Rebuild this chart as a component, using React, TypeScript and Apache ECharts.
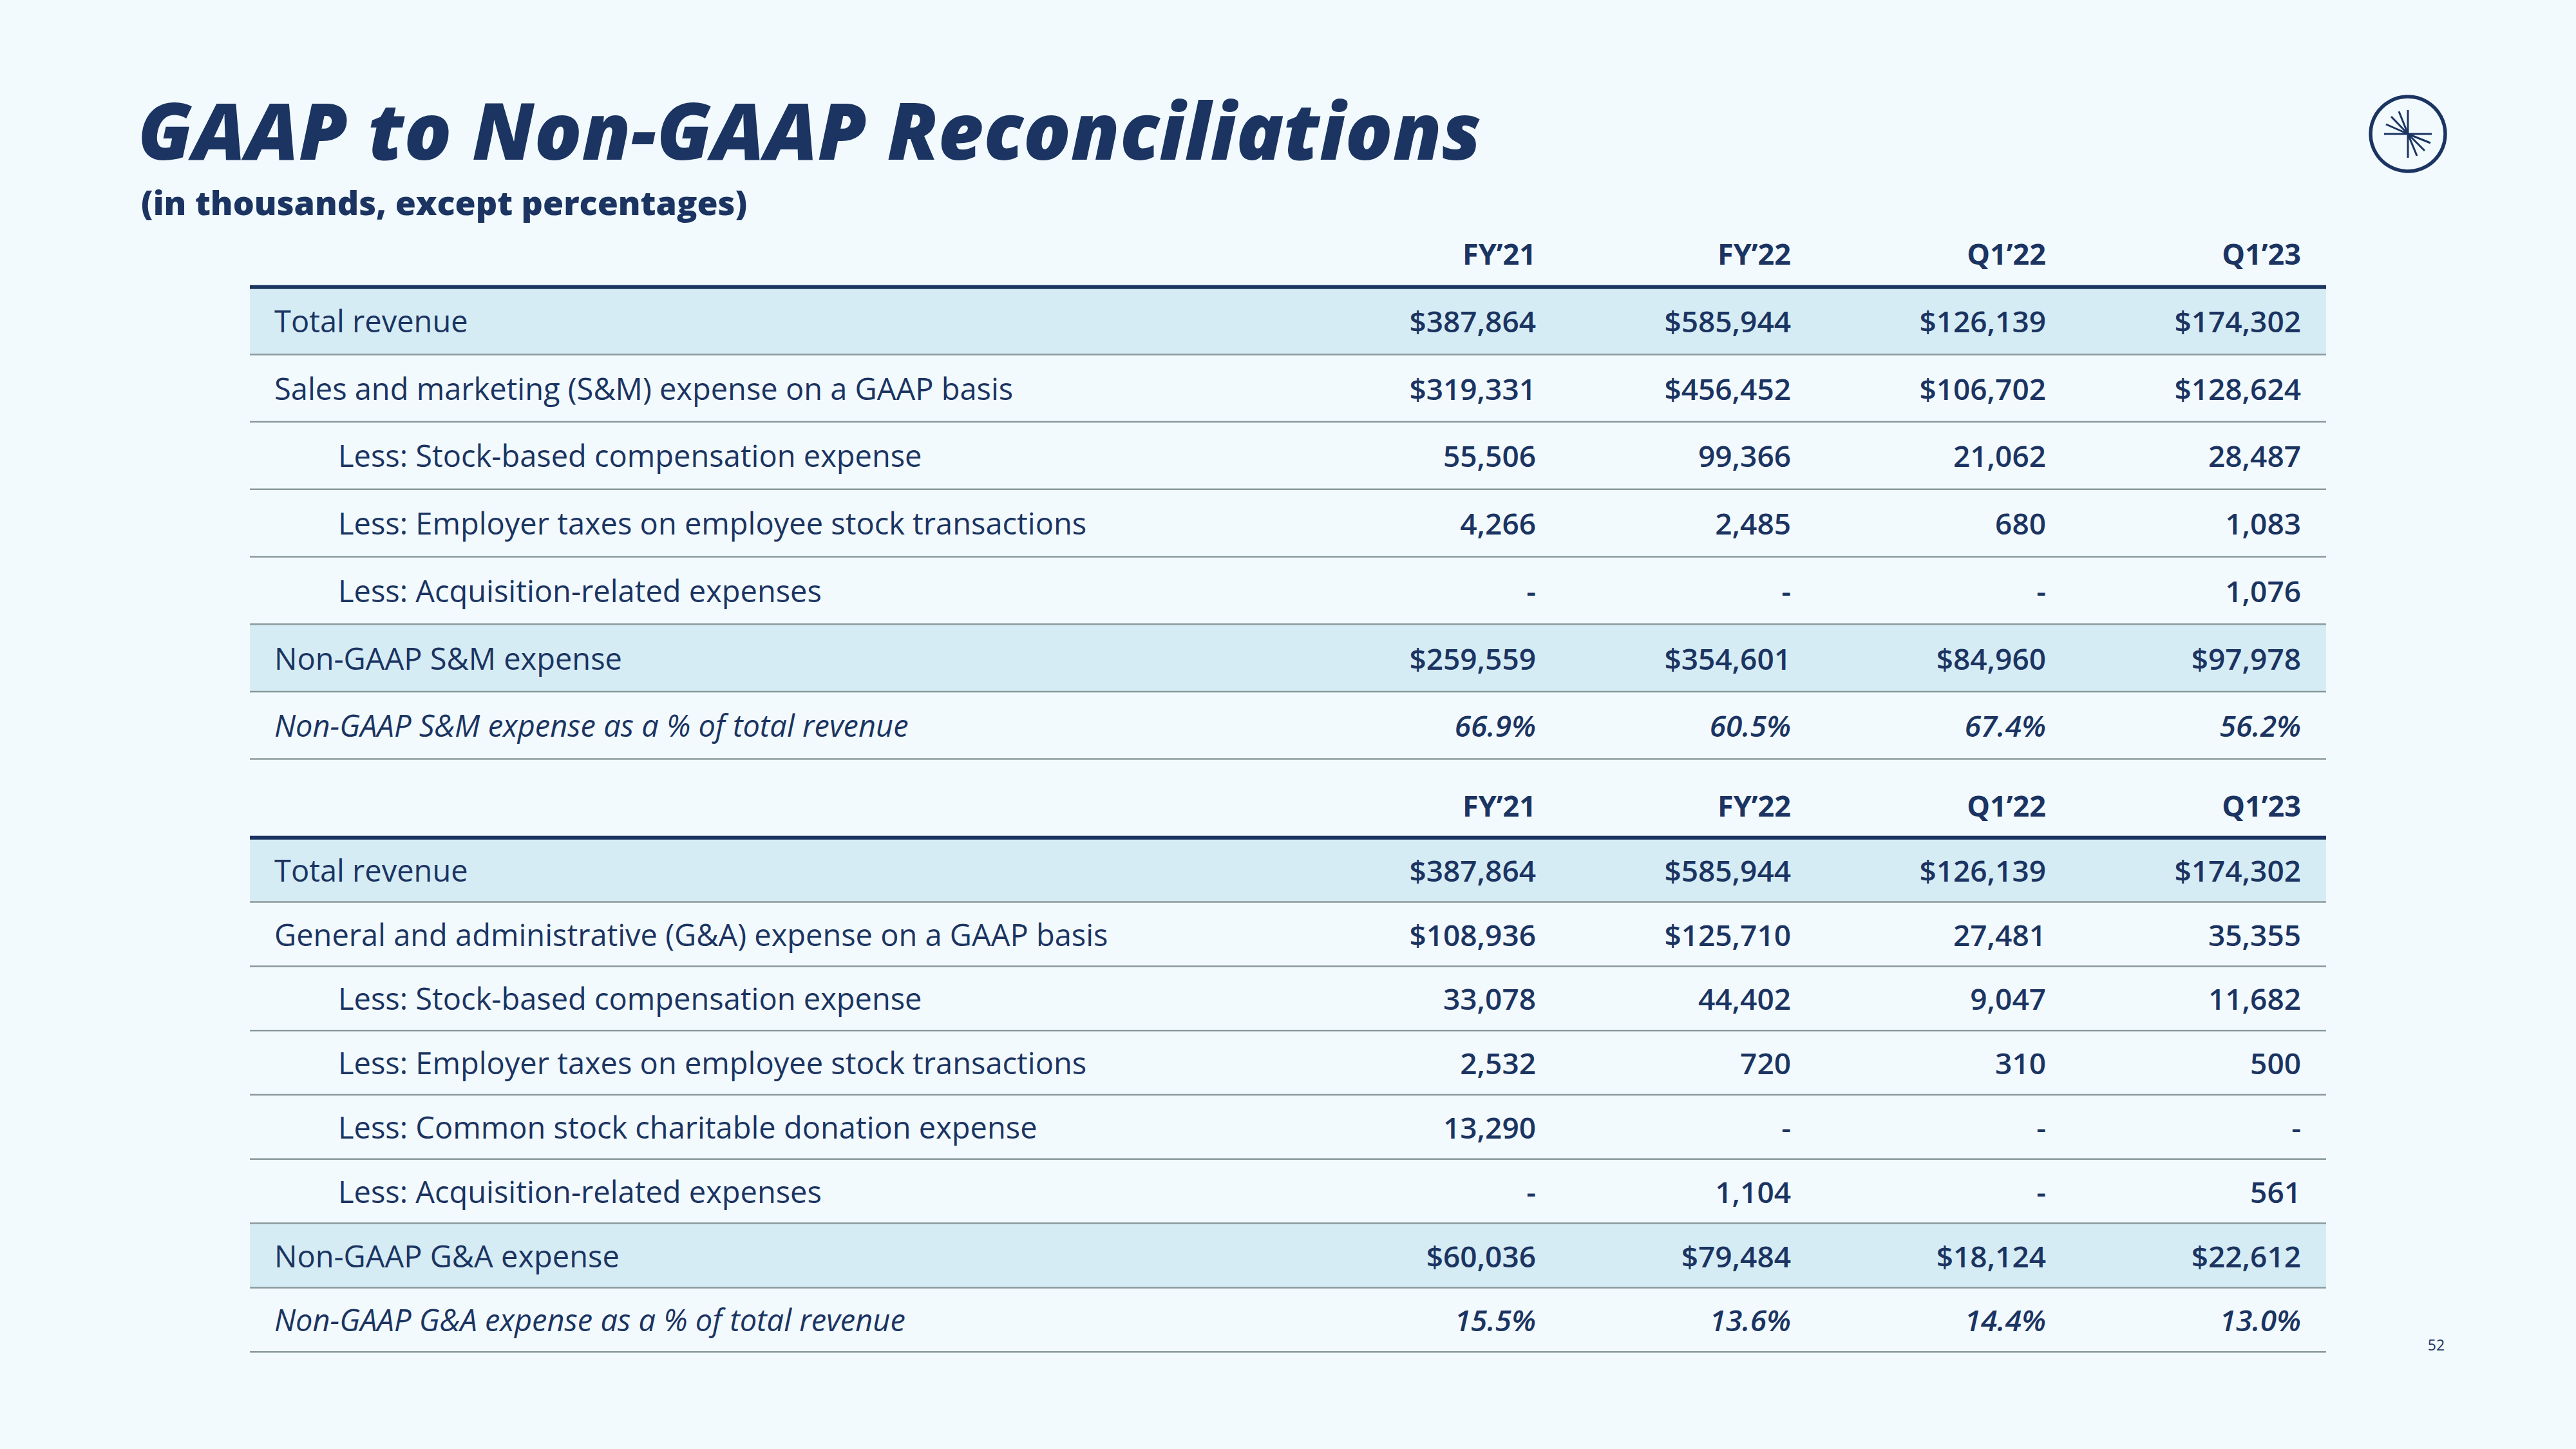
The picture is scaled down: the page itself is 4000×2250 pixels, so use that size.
import React, { useEffect, useRef } from "react";
import * as echarts from "echarts";

// ---------- data ----------
const TITLE = "GAAP to Non-GAAP Reconciliations";
const SUBTITLE = "(in thousands, except percentages)";
const PAGE_NUMBER = "52";

const PERIODS = ["FY’21", "FY’22", "Q1’22", "Q1’23"];

const TOTAL_REVENUE = ["$387,864", "$585,944", "$126,139", "$174,302"];

const SM_GAAP = ["$319,331", "$456,452", "$106,702", "$128,624"];
const SM_SBC = ["55,506", "99,366", "21,062", "28,487"];
const SM_EMP_TAX = ["4,266", "2,485", "680", "1,083"];
const SM_ACQ = ["-", "-", "-", "1,076"];
const SM_NON_GAAP = ["$259,559", "$354,601", "$84,960", "$97,978"];
const SM_PCT = ["66.9%", "60.5%", "67.4%", "56.2%"];

const GA_GAAP = ["$108,936", "$125,710", "27,481", "35,355"];
const GA_SBC = ["33,078", "44,402", "9,047", "11,682"];
const GA_EMP_TAX = ["2,532", "720", "310", "500"];
const GA_DONATION = ["13,290", "-", "-", "-"];
const GA_ACQ = ["-", "1,104", "-", "561"];
const GA_NON_GAAP = ["$60,036", "$79,484", "$18,124", "$22,612"];
const GA_PCT = ["15.5%", "13.6%", "14.4%", "13.0%"];

type Kind = "header" | "highlight" | "plain" | "indent" | "italic";
type Row = { label: string; kind: Kind; values: string[] };

const SM_ROWS: Row[] = [
  { label: "", kind: "header", values: PERIODS },
  { label: "Total revenue", kind: "highlight", values: TOTAL_REVENUE },
  { label: "Sales and marketing (S&M) expense on a GAAP basis", kind: "plain", values: SM_GAAP },
  { label: "Less: Stock-based compensation expense", kind: "indent", values: SM_SBC },
  { label: "Less: Employer taxes on employee stock transactions", kind: "indent", values: SM_EMP_TAX },
  { label: "Less: Acquisition-related expenses", kind: "indent", values: SM_ACQ },
  { label: "Non-GAAP S&M expense", kind: "highlight", values: SM_NON_GAAP },
  { label: "Non-GAAP S&M expense as a % of total revenue", kind: "italic", values: SM_PCT },
];

const GA_ROWS: Row[] = [
  { label: "", kind: "header", values: PERIODS },
  { label: "Total revenue", kind: "highlight", values: TOTAL_REVENUE },
  { label: "General and administrative (G&A) expense on a GAAP basis", kind: "plain", values: GA_GAAP },
  { label: "Less: Stock-based compensation expense", kind: "indent", values: GA_SBC },
  { label: "Less: Employer taxes on employee stock transactions", kind: "indent", values: GA_EMP_TAX },
  { label: "Less: Common stock charitable donation expense", kind: "indent", values: GA_DONATION },
  { label: "Less: Acquisition-related expenses", kind: "indent", values: GA_ACQ },
  { label: "Non-GAAP G&A expense", kind: "highlight", values: GA_NON_GAAP },
  { label: "Non-GAAP G&A expense as a % of total revenue", kind: "italic", values: GA_PCT },
];

// ---------- style / layout ----------
const BG = "#F2FAFE";
const NAVY = "#1B3461";
const HILITE = "#D6ECF5";
const GRAY = "#8A9A9C";
const FONT = "'Open Sans', Lato, sans-serif";

const TABLE_LEFT = 388;
const TABLE_WIDTH = 3224;
const COL_STEP = 396; // px between value columns
const FIRST_COL_RIGHT = 1997; // px from table left
const X_MIN = 1 - FIRST_COL_RIGHT / COL_STEP;
const X_MAX = X_MIN + TABLE_WIDTH / COL_STEP;
const LABEL_PAD = 38;
const INDENT = 99;

function makeRenderItem(rows: Row[]) {
  return (params: any, api: any) => {
    const r = api.value(1) as number;
    const row = rows[r];
    const cs = params.coordSys;
    const cy = api.coord([0, r])[1];
    const h = api.size([0, 1])[1];
    const top = cy - h / 2;
    const bottom = cy + h / 2;
    const children: any[] = [];
    if (row.kind === "highlight") {
      children.push({
        type: "rect",
        shape: { x: cs.x, y: top, width: cs.width, height: h },
        style: { fill: HILITE },
        z2: 0,
      });
    }
    children.push({
      type: "line",
      shape: { x1: cs.x, y1: bottom, x2: cs.x + cs.width, y2: bottom },
      style: {
        stroke: row.kind === "header" ? NAVY : GRAY,
        lineWidth: row.kind === "header" ? 6 : 2.5,
      },
      z2: 10,
    });
    const italic = row.kind === "italic";
    if (row.label) {
      children.push({
        type: "text",
        x: cs.x + LABEL_PAD + (row.kind === "indent" ? INDENT : 0),
        y: cy,
        style: {
          text: row.label,
          fill: NAVY,
          fontFamily: FONT,
          fontSize: 47,
          fontWeight: 400,
          fontStyle: italic ? "italic" : "normal",
          align: "left",
          verticalAlign: "middle",
        },
        z2: 20,
      });
    }
    row.values.forEach((v, j) => {
      const x = api.coord([j + 1, r])[0];
      children.push({
        type: "text",
        x,
        y: cy,
        style: {
          text: v,
          fill: NAVY,
          fontFamily: FONT,
          fontSize: row.kind === "header" ? 45 : 46,
          fontWeight: row.kind === "header" ? 700 : 600,
          fontStyle: italic ? "italic" : "normal",
          align: "right",
          verticalAlign: "middle",
        },
        z2: 20,
      });
    });
    return { type: "group", children };
  };
}

export default function App() {
  const ref = useRef<HTMLDivElement>(null);

  useEffect(() => {
    document.body.style.margin = "0";
    document.body.style.background = BG;
    if (!ref.current) return;
    const chart = echarts.init(ref.current, null, { renderer: "svg" });

    const grids = [
      { left: TABLE_LEFT, width: TABLE_WIDTH, top: 341, height: 104.7 * SM_ROWS.length },
      { left: TABLE_LEFT, width: TABLE_WIDTH, top: 1201, height: 99.8 * GA_ROWS.length },
    ];
    const tables = [SM_ROWS, GA_ROWS];

    const logoCx = 3739;
    const logoCy = 208;
    const rays: [number, number][] = [
      [-37, 0], [37, 0], [0, -37], [0, 37],
      [-34, -15], [-26, -27], [-14, -35],
      [35, 14], [26, 26], [14, 34],
    ];

    chart.setOption({
      animation: false,
      backgroundColor: BG,
      grid: grids,
      xAxis: tables.map((_, i) => ({
        type: "value",
        gridIndex: i,
        min: X_MIN,
        max: X_MAX,
        show: false,
      })),
      yAxis: tables.map((rows, i) => ({
        type: "category",
        gridIndex: i,
        inverse: true,
        data: rows.map((_, k) => String(k)),
        show: false,
      })),
      series: tables.map((rows, i) => ({
        type: "custom",
        xAxisIndex: i,
        yAxisIndex: i,
        encode: { x: 0, y: 1 },
        data: rows.map((_, k) => [0, k]),
        renderItem: makeRenderItem(rows),
        silent: true,
      })),
      graphic: [
        {
          type: "text",
          x: 214,
          y: 201,
          style: {
            text: TITLE,
            fill: NAVY,
            fontFamily: FONT,
            fontSize: 122,
            fontWeight: 800,
            fontStyle: "italic",
            align: "left",
            verticalAlign: "middle",
          },
        },
        {
          type: "text",
          x: 219,
          y: 313,
          style: {
            text: SUBTITLE,
            fill: NAVY,
            fontFamily: FONT,
            fontSize: 52,
            fontWeight: 800,
            align: "left",
            verticalAlign: "middle",
          },
        },
        {
          type: "text",
          x: 3783,
          y: 2088,
          style: {
            text: PAGE_NUMBER,
            fill: NAVY,
            fontFamily: FONT,
            fontSize: 23,
            fontWeight: 400,
            align: "center",
            verticalAlign: "middle",
          },
        },
        {
          type: "group",
          children: [
            {
              type: "circle",
              shape: { cx: logoCx, cy: logoCy, r: 58 },
              style: { fill: "none", stroke: NAVY, lineWidth: 5.5 },
            },
            ...rays.map(([dx, dy]) => ({
              type: "line",
              shape: { x1: logoCx, y1: logoCy, x2: logoCx + dx, y2: logoCy + dy },
              style: { stroke: NAVY, lineWidth: 3 },
            })),
          ],
        },
      ],
    });

    return () => chart.dispose();
  }, []);

  return <div ref={ref} style={{ width: 4000, height: 2250 }} />;
}
